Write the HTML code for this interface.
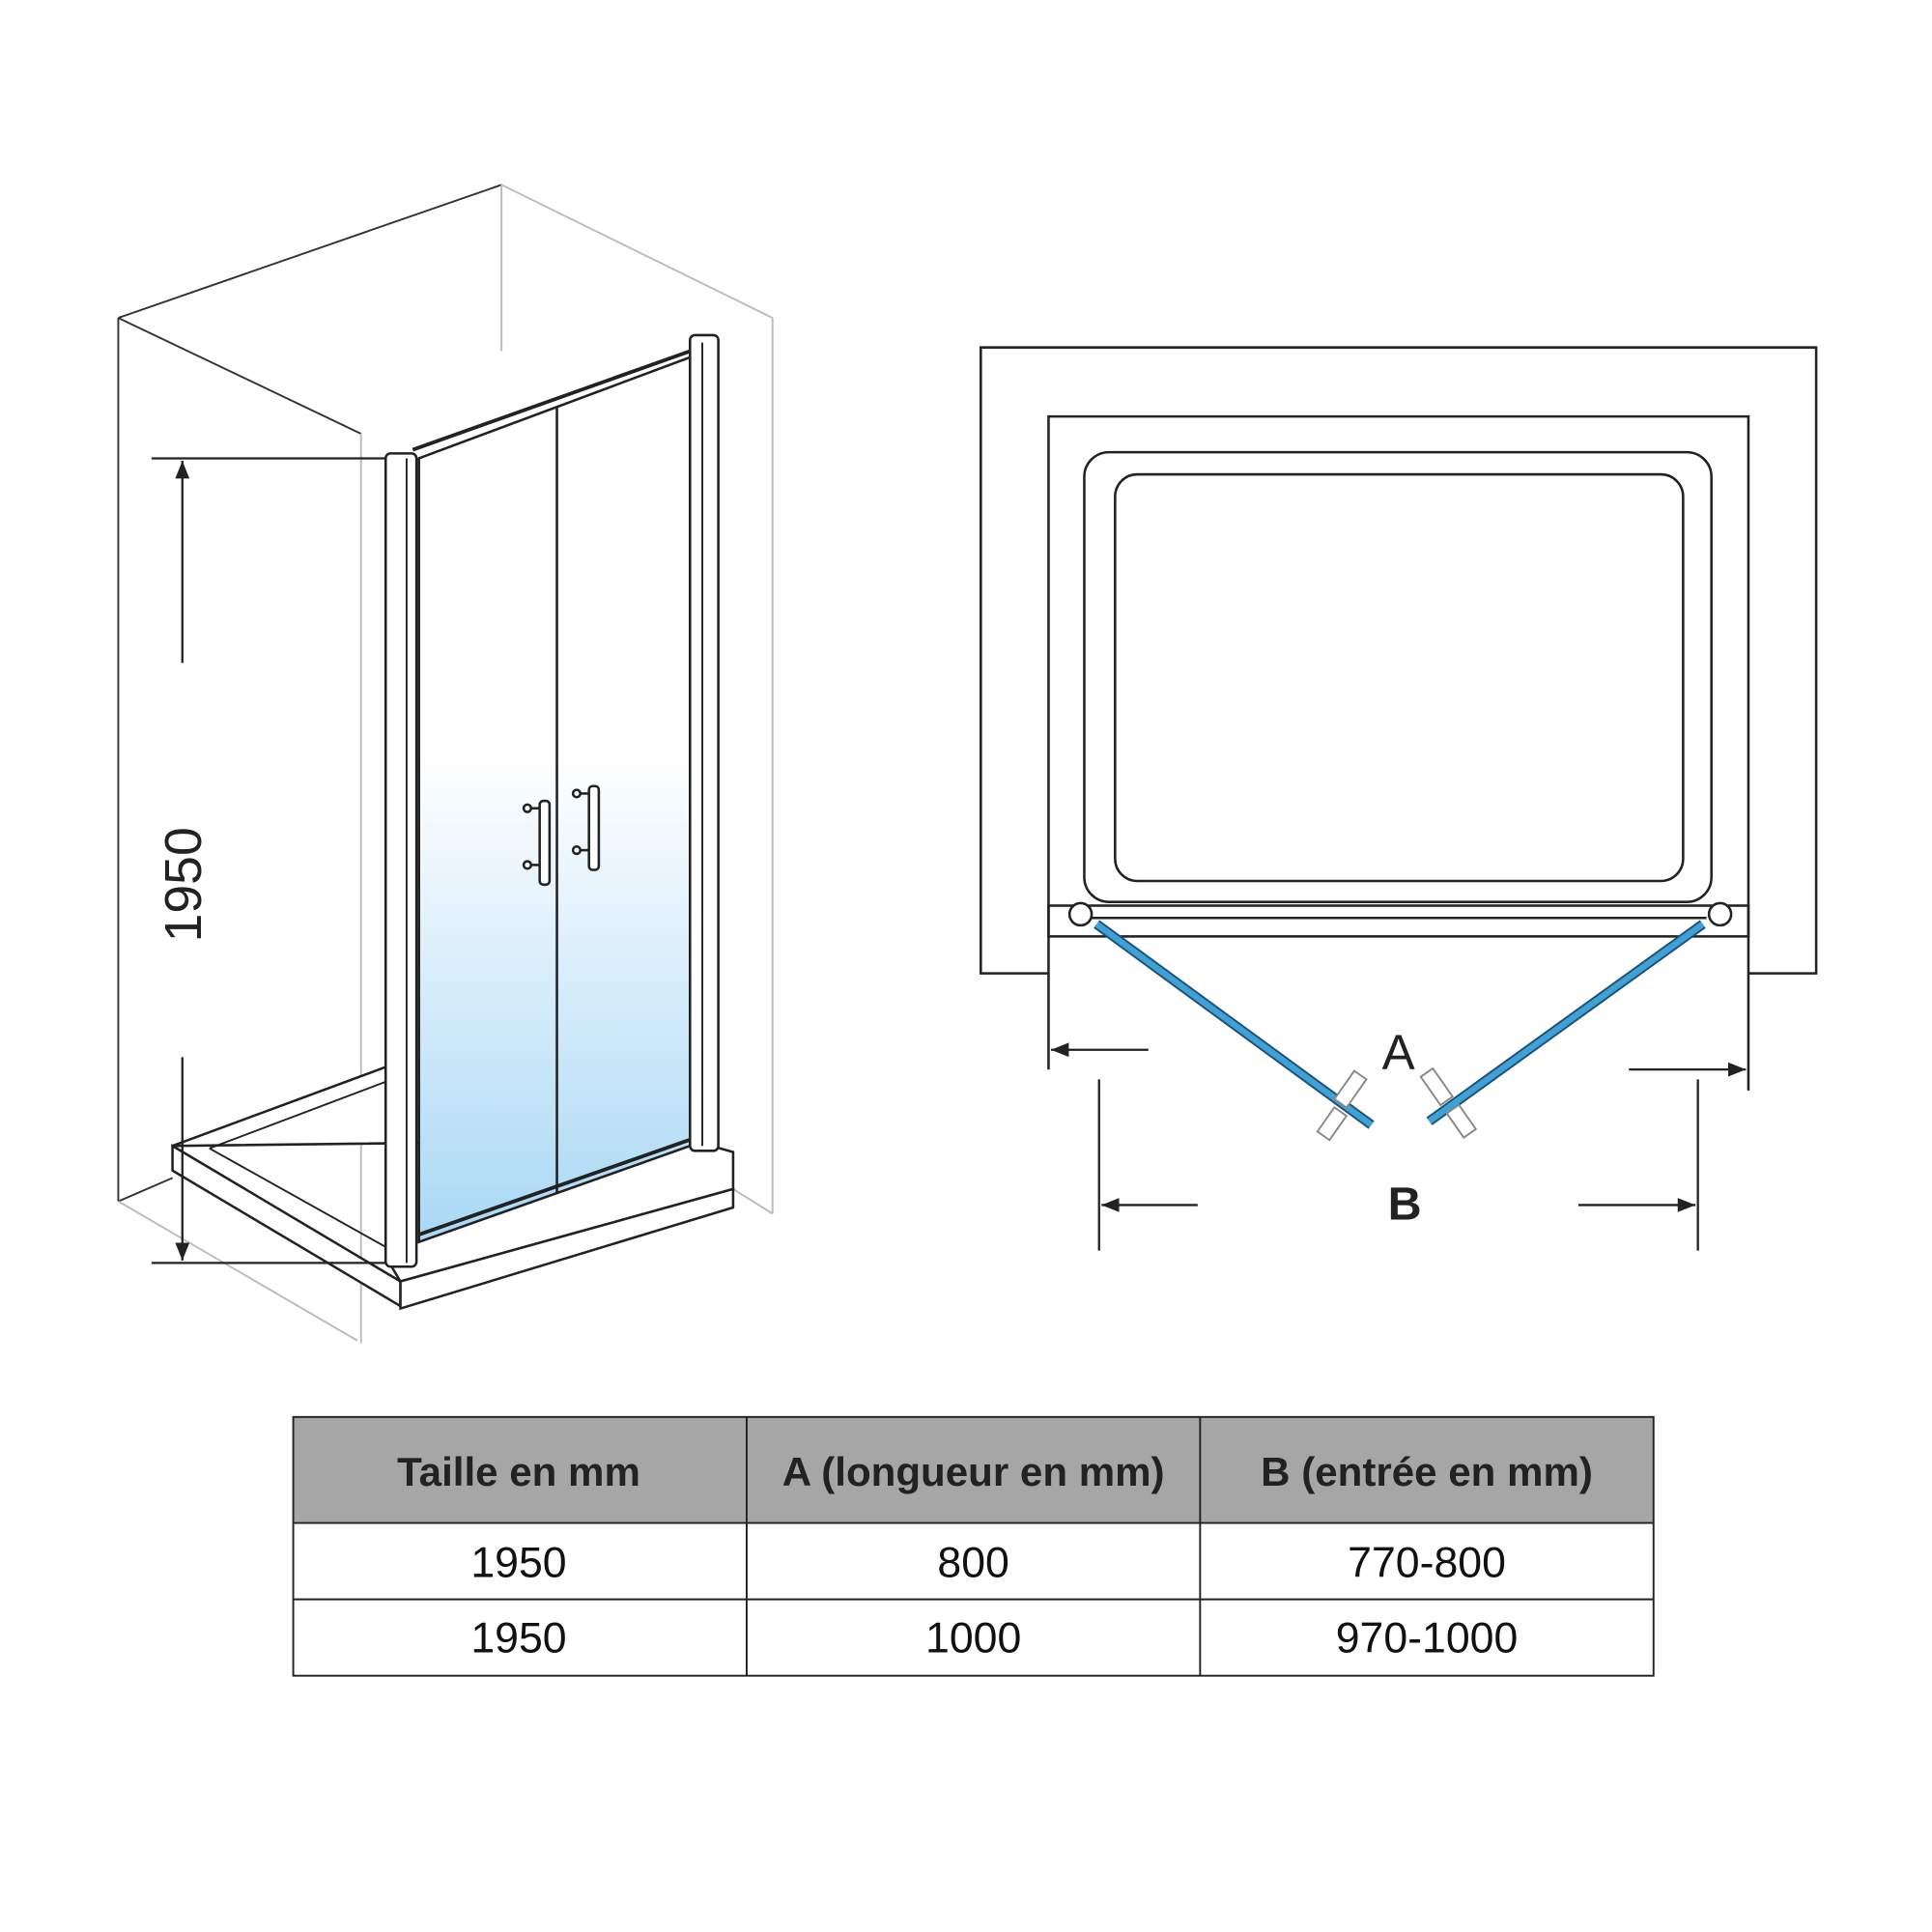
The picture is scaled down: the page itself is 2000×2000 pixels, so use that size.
<!DOCTYPE html>
<html><head><meta charset="utf-8"><style>html,body{margin:0;padding:0;background:#fff}svg{display:block}</style></head>
<body>
<svg width="2000" height="2000" viewBox="0 0 1568 1568" xmlns="http://www.w3.org/2000/svg" font-family="Liberation Sans, sans-serif">
<defs>
<linearGradient id="g" x1="0" y1="0" x2="0" y2="1">
<stop offset="0" stop-color="#fff"/><stop offset="0.45" stop-color="#fff"/><stop offset="1" stop-color="#a9d8f5"/>
</linearGradient>
<marker id="ar" viewBox="0 0 10 10" refX="10" refY="5" markerWidth="8" markerHeight="8" orient="auto-start-reverse"><path d="M0,1 L10,5 L0,9 z" fill="#222"/></marker>
</defs>
<g fill="none" stroke="#333" stroke-width="1.5">
<line x1="96" y1="258" x2="407" y2="150"/>
<line x1="96" y1="258" x2="96" y2="975"/>
<line x1="96" y1="258" x2="293" y2="352"/>
<line x1="96" y1="975" x2="140" y2="956"/>
</g>
<g fill="none" stroke="#bbb" stroke-width="1.5">
<line x1="407" y1="150" x2="407" y2="285"/>
<line x1="407" y1="150" x2="627" y2="258"/>
<line x1="627" y1="258" x2="627" y2="985"/>
<line x1="293" y1="352" x2="293" y2="1090"/>
<line x1="96" y1="975" x2="290" y2="1088"/>
<line x1="595" y1="965" x2="627" y2="985"/>
</g>
<polygon points="140,930 313,866 313,1020 325,1040 595,965 595,935 560,925" fill="#fff" stroke="#222" stroke-width="2"/>
<polygon points="140,930 325,1040 325,1060 140,950" fill="#fff" stroke="#222" stroke-width="2"/>
<polygon points="325,1040 595,965 595,980 325,1062" fill="#fff" stroke="#222" stroke-width="2"/>
<polyline points="170,932 313,878" fill="none" stroke="#222" stroke-width="1.5"/>
<polyline points="170,932 313,1012" fill="none" stroke="#222" stroke-width="1.5"/>
<polygon points="340,372 560,290 560,930 340,1008" fill="url(#g)" stroke="#222" stroke-width="2"/>
<line x1="452" y1="330" x2="452" y2="968" stroke="#222" stroke-width="2"/>
<polyline points="335,365 560,285" fill="none" stroke="#222" stroke-width="3"/>
<polyline points="340,1002 560,925" fill="none" stroke="#222" stroke-width="3"/>
<rect x="313" y="368" width="25" height="660" fill="#fff" stroke="#222" stroke-width="2" rx="4"/>
<line x1="330" y1="372" x2="330" y2="1025" stroke="#222" stroke-width="1.5"/>
<rect x="560" y="272" width="23" height="662" fill="#fff" stroke="#222" stroke-width="2" rx="4"/>
<line x1="570" y1="278" x2="570" y2="930" stroke="#222" stroke-width="1.5"/>
<g stroke="#222" stroke-width="2" fill="#fff">
<rect x="438" y="650" width="8" height="68" rx="3"/>
<rect x="478" y="638" width="8" height="68" rx="3"/>
<line x1="426" y1="656" x2="438" y2="656"/><line x1="426" y1="702" x2="438" y2="702"/>
<line x1="466" y1="644" x2="478" y2="644"/><line x1="466" y1="690" x2="478" y2="690"/>
<circle cx="428" cy="656" r="3"/><circle cx="428" cy="702" r="3"/>
<circle cx="468" cy="644" r="3"/><circle cx="468" cy="690" r="3"/>
</g>
<g stroke="#222" stroke-width="1.8">
<line x1="123" y1="372" x2="313" y2="372"/>
<line x1="123" y1="1025" x2="313" y2="1025"/>
<line x1="148" y1="538" x2="148" y2="374" marker-end="url(#ar)"/>
<line x1="148" y1="858" x2="148" y2="1023" marker-end="url(#ar)"/>
</g>
<text x="163" y="718" font-size="42" text-anchor="middle" transform="rotate(-90 163 718)" fill="#222">1950</text>
<g fill="none" stroke="#222" stroke-width="2">
<polyline points="851,790 796,790 796,282 1474,282 1474,790 1419,790"/>
<polyline points="851,868 851,338 1419,338 1419,885"/>
<rect x="880" y="367" width="509" height="365" rx="20"/>
<rect x="905" y="385" width="461" height="330" rx="18"/>
<rect x="851" y="735" width="568" height="25"/>
<line x1="885" y1="745" x2="1385" y2="745"/>
</g>
<circle cx="877" cy="742" r="9" fill="#fff" stroke="#222" stroke-width="2"/>
<circle cx="1396" cy="742" r="9" fill="#fff" stroke="#222" stroke-width="2"/>
<line x1="890" y1="750" x2="1113" y2="913" stroke="#1d4f70" stroke-width="8"/>
<line x1="890" y1="750" x2="1113" y2="913" stroke="#3ea2d8" stroke-width="5"/>
<line x1="1382" y1="750" x2="1160" y2="910" stroke="#1d4f70" stroke-width="8"/>
<line x1="1382" y1="750" x2="1160" y2="910" stroke="#3ea2d8" stroke-width="5"/>
<g fill="#fff" stroke="#888" stroke-width="1.5">
<rect x="1090" y="870" width="12" height="28" transform="rotate(35 1096 884)"/>
<rect x="1075" y="900" width="12" height="24" transform="rotate(35 1081 912)"/>
<rect x="1160" y="868" width="12" height="28" transform="rotate(-35 1166 882)"/>
<rect x="1180" y="898" width="12" height="24" transform="rotate(-35 1186 910)"/>
</g>
<text x="1135" y="868" font-size="40" text-anchor="middle" fill="#222">A</text>
<text x="1140" y="990" font-size="38" font-weight="bold" text-anchor="middle" fill="#222">B</text>
<g stroke="#222" stroke-width="1.8">
<line x1="932" y1="852" x2="853" y2="852" marker-end="url(#ar)"/>
<line x1="1322" y1="868" x2="1417" y2="868" marker-end="url(#ar)"/>
<line x1="892" y1="876" x2="892" y2="1015"/>
<line x1="1378" y1="876" x2="1378" y2="1015"/>
<line x1="972" y1="978" x2="894" y2="978" marker-end="url(#ar)"/>
<line x1="1281" y1="978" x2="1376" y2="978" marker-end="url(#ar)"/>
</g>
<rect x="238" y="1150" width="1104" height="86" fill="#a6a6a6"/>
<g fill="none" stroke="#222" stroke-width="1.5">
<rect x="238" y="1150" width="1104" height="210"/>
<line x1="238" y1="1236" x2="1342" y2="1236"/>
<line x1="238" y1="1298" x2="1342" y2="1298"/>
<line x1="606" y1="1150" x2="606" y2="1360"/>
<line x1="974" y1="1150" x2="974" y2="1360"/>
</g>
<g font-size="33" font-weight="bold" text-anchor="middle" fill="#222">
<text x="421" y="1206">Taille en mm</text>
<text x="790" y="1206">A (longueur en mm)</text>
<text x="1158" y="1206">B (entrée en mm)</text>
</g>
<g font-size="35" text-anchor="middle" fill="#111">
<text x="421" y="1280">1950</text><text x="790" y="1280">800</text><text x="1158" y="1280">770-800</text>
<text x="421" y="1341">1950</text><text x="790" y="1341">1000</text><text x="1158" y="1341">970-1000</text>
</g>
</svg>
</body></html>
